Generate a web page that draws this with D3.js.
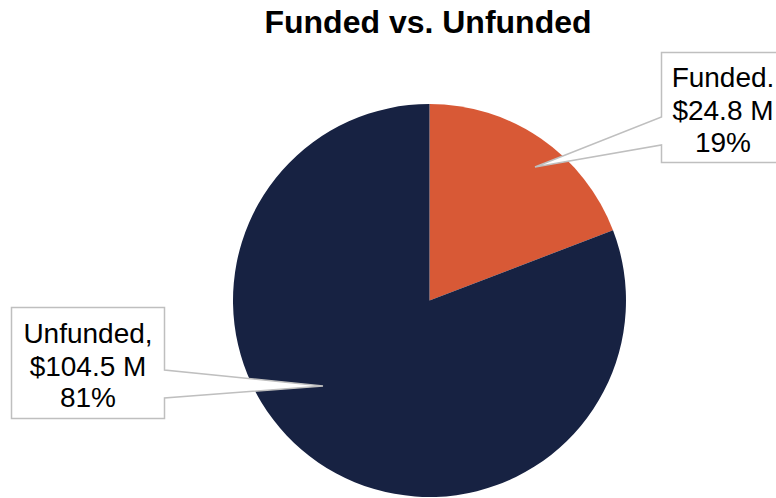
<!DOCTYPE html>
<html><head><meta charset="utf-8">
<script src="https://cdn.jsdelivr.net/npm/d3@7"></script>
<style>html,body{margin:0;padding:0;background:#fff;overflow:hidden}svg{display:block}</style>
</head><body>
<svg id="chart" width="776" height="498"></svg>
<script>
const categories = ["Funded", "Unfunded"];
const values = [24.8, 104.5];
const labelNames = ["Funded.", "Unfunded,"];
const colors = ["#D85936", "#172242"];
const title = "Funded vs. Unfunded";

const W = 776, H = 498;
const cx = 429.5, cy = 300.5, R = 196.5;
const svg = d3.select("#chart");
const font = "'Liberation Sans', Arial, sans-serif";

svg.append("text").attr("x", 428).attr("y", 33).attr("text-anchor", "middle")
  .attr("font-family", font).attr("font-weight", "bold").attr("font-size", 32)
  .attr("fill", "#000").text(title);

const data = categories.map((c, i) => ({name: c, label: labelNames[i], value: values[i], color: colors[i]}));
const total = d3.sum(values);
const pie = d3.pie().value(d => d.value).sort(null);
const arc = d3.arc().innerRadius(0).outerRadius(R);
const g = svg.append("g").attr("transform", `translate(${cx},${cy})`);
g.selectAll("path").data(pie(data)).join("path")
  .attr("d", arc).attr("fill", d => d.data.color);

// callout layout (annotation boxes): box rect, pointer tip, pointer base on box edge
const callouts = [
  {box: [661.5, 52.5, 125, 110], tip: [535, 167], side: "left", base: [117, 145], tx: 723, ty: [86.5, 119.5, 152]},
  {box: [11.5, 307.5, 153, 111], tip: [323, 386], side: "right", base: [370, 398], tx: 88, ty: [343, 376, 406.5]}
];
const fmt = d3.format(".1f");
data.forEach((d, i) => {
  const c = callouts[i];
  const [x, y, w, h] = c.box;
  let p;
  if (c.side === "left") {
    p = `M${x},${y}H${x+w}V${y+h}H${x}V${c.base[1]}L${c.tip[0]},${c.tip[1]}L${x},${c.base[0]}Z`;
  } else {
    p = `M${x},${y}H${x+w}V${c.base[0]}L${c.tip[0]},${c.tip[1]}L${x+w},${c.base[1]}V${y+h}H${x}Z`;
  }
  svg.append("path").attr("d", p).attr("fill", "#fff").attr("stroke", "#BFBFBF").attr("stroke-width", 1.5);
  const lines = [d.label, `$${fmt(d.value)} M`, `${Math.round(d.value / total * 100)}%`];
  const t = svg.append("text").attr("font-family", font).attr("font-size", 28)
    .attr("fill", "#000").attr("text-anchor", "middle");
  lines.forEach((l, k) => {
    t.append("tspan").attr("x", c.tx).attr("y", c.ty[k]).text(l);
  });
});
</script>
</body></html>
